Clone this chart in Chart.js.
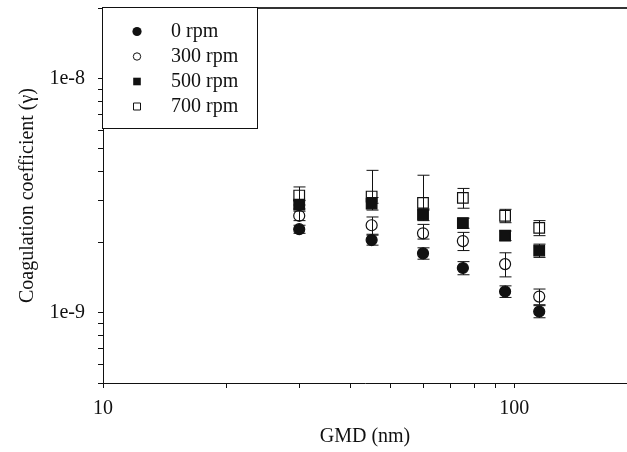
<!DOCTYPE html>
<html>
<head>
<meta charset="utf-8">
<script src="https://cdn.jsdelivr.net/npm/chart.js@4.4.1/dist/chart.umd.min.js"></script>
<style>
    html, body { margin: 0; padding: 0; background: #fff; }
    #wrap { width: 627px; height: 452px; position: relative; }
</style>
</head>
<body>
<div id="wrap"><canvas id="chart"></canvas></div>
<script>
// GMD (nm) of each measured group
const gmd = [30, 45, 60, 75, 95, 115];

// coagulation coefficient per stirring speed, with upper / lower error lengths
const rpm0 = [2.27e-9, 2.04e-9, 1.79e-9, 1.55e-9, 1.23e-9, 1.01e-9];
const rpm0ErrUp = [0.09e-9, 0.10e-9, 0.10e-9, 0.10e-9, 0.07e-9, 0.06e-9];
const rpm0ErrDown = [0.09e-9, 0.10e-9, 0.10e-9, 0.10e-9, 0.07e-9, 0.06e-9];
const rpm300 = [2.59e-9, 2.36e-9, 2.18e-9, 2.02e-9, 1.61e-9, 1.17e-9];
const rpm300ErrUp = [0.12e-9, 0.20e-9, 0.20e-9, 0.18e-9, 0.19e-9, 0.09e-9];
const rpm300ErrDown = [0.12e-9, 0.20e-9, 0.12e-9, 0.18e-9, 0.19e-9, 0.09e-9];
const rpm500 = [2.89e-9, 2.92e-9, 2.62e-9, 2.41e-9, 2.13e-9, 1.84e-9];
const rpm500ErrUp = [0.12e-9, 0.18e-9, 0.15e-9, 0.12e-9, 0.10e-9, 0.12e-9];
const rpm500ErrDown = [0.12e-9, 0.18e-9, 0.15e-9, 0.12e-9, 0.10e-9, 0.12e-9];
const rpm700 = [3.16e-9, 3.13e-9, 2.94e-9, 3.09e-9, 2.59e-9, 2.30e-9];
const rpm700ErrUp = [0.28e-9, 0.92e-9, 0.92e-9, 0.30e-9, 0.17e-9, 0.17e-9];
const rpm700ErrDown = [0.28e-9, 0.20e-9, 0.20e-9, 0.30e-9, 0.17e-9, 0.17e-9];

const seriesLabels = ['0 rpm', '300 rpm', '500 rpm', '700 rpm'];

// tick positions and the few that carry labels
const xTicks = [10, 20, 30, 40, 50, 60, 70, 80, 90, 100];
const xLabelValues = [10, 100];
const xLabelText = ['10', '100'];
const yTicks = [5e-10, 6e-10, 7e-10, 8e-10, 9e-10, 1e-9, 2e-9, 3e-9, 4e-9, 5e-9,
    6e-9, 7e-9, 8e-9, 9e-9, 1e-8, 2e-8];
const yLabelValues = [1e-9, 1e-8];
const yLabelText = ['1e-9', '1e-8'];

const serif = '"Liberation Serif", "Times New Roman", serif';
const ink = '#111';

function pairs(ys) {
    return gmd.map((x, i) => ({ x: x, y: ys[i] }));
}

function labelFor(values, texts) {
    return function(v) {
        const i = values.findIndex(t => Math.abs(t - v) / t < 1e-6);
        return i >= 0 ? texts[i] : '';
    };
}

const seriesValues = [rpm0, rpm300, rpm500, rpm700];
const seriesErrUp = [rpm0ErrUp, rpm300ErrUp, rpm500ErrUp, rpm700ErrUp];
const seriesErrDown = [rpm0ErrDown, rpm300ErrDown, rpm500ErrDown, rpm700ErrDown];
const styles = [
    { pointStyle: 'circle', radius: 5.5, filled: true },
    { pointStyle: 'circle', radius: 5.5, filled: false },
    { pointStyle: 'rect', radius: 7.5, filled: true },
    { pointStyle: 'rect', radius: 7.5, filled: false }
];

// error bars, drawn under the markers
const errorBars = {
    id: 'errorBars',
    beforeDatasetsDraw(chart) {
        const ctx = chart.ctx;
        const xs = chart.scales.x, ys = chart.scales.y;
        ctx.save();
        ctx.strokeStyle = ink;
        ctx.lineWidth = 1;
        seriesValues.forEach((vals, s) => {
            vals.forEach((v, j) => {
                const px = Math.round(xs.getPixelForValue(gmd[j])) + 0.5;
                const hi = ys.getPixelForValue(v + seriesErrUp[s][j]);
                const lo = ys.getPixelForValue(v - seriesErrDown[s][j]);
                ctx.beginPath();
                ctx.moveTo(px, hi); ctx.lineTo(px, lo);
                ctx.moveTo(px - 6, hi); ctx.lineTo(px + 6, hi);
                ctx.moveTo(px - 6, lo); ctx.lineTo(px + 6, lo);
                ctx.stroke();
            });
        });
        ctx.restore();
    }
};

// top frame line and the boxed legend in the upper left corner
const frameAndLegend = {
    id: 'frameAndLegend',
    afterDraw(chart) {
        const ctx = chart.ctx;
        const a = chart.chartArea;
        ctx.save();
        ctx.strokeStyle = '#333';
        ctx.lineWidth = 2;
        ctx.beginPath();
        ctx.moveTo(a.left, a.top);
        ctx.lineTo(a.right, a.top);
        ctx.stroke();

        const bx = a.left - 0.5, by = a.top - 0.5;
        ctx.fillStyle = '#fff';
        ctx.fillRect(bx, by, 155, 121);
        ctx.strokeStyle = ink;
        ctx.lineWidth = 1;
        ctx.strokeRect(bx, by, 155, 121);

        ctx.font = '20px ' + serif;
        ctx.textBaseline = 'alphabetic';
        ctx.textAlign = 'left';
        const mx = a.left + 34;
        seriesLabels.forEach((label, i) => {
            const cy = a.top + 23.5 + 25 * i;
            ctx.beginPath();
            if (i === 0) ctx.arc(mx, cy, 4.6, 0, Math.PI * 2);
            if (i === 1) ctx.arc(mx, cy, 3.7, 0, Math.PI * 2);
            if (i === 2) ctx.rect(mx - 3.8, cy - 3.8, 7.6, 7.6);
            if (i === 3) ctx.rect(mx - 3.5, cy - 3.5, 7, 7);
            ctx.fillStyle = ink;
            if (styles[i].filled) ctx.fill();
            else ctx.stroke();
            ctx.fillText(label, a.left + 68, cy + 5.5);
        });
        ctx.restore();
    }
};

const datasets = seriesValues.map((vals, i) => ({
    label: seriesLabels[i],
    data: pairs(vals),
    pointStyle: styles[i].pointStyle,
    pointRadius: styles[i].radius,
    pointHoverRadius: styles[i].radius,
    pointBackgroundColor: styles[i].filled ? ink : 'rgba(0,0,0,0)',
    pointBorderColor: ink,
    pointBorderWidth: 1.2,
    showLine: false
}));

new Chart(document.getElementById('chart'), {
    type: 'scatter',
    data: { datasets: datasets },
    options: {
        responsive: true,
        maintainAspectRatio: false,
        animation: false,
        events: [],
        layout: { autoPadding: false, padding: { top: 8, right: 0, left: 0, bottom: 0 } },
        plugins: {
            legend: { display: false },
            tooltip: { enabled: false }
        },
        scales: {
            x: {
                type: 'logarithmic',
                min: 10,
                max: 188,
                afterBuildTicks: s => { s.ticks = xTicks.map(v => ({ value: v })); },
                afterFit: s => { s.height = 69; s.paddingLeft = 0; s.paddingRight = 0; },
                ticks: {
                    autoSkip: false,
                    maxRotation: 0,
                    padding: 9,
                    color: ink,
                    font: { family: serif, size: 20 },
                    callback: labelFor(xLabelValues, xLabelText)
                },
                grid: { drawOnChartArea: false, drawTicks: true, tickLength: 5, tickColor: ink },
                border: { display: true, color: ink, width: 1 },
                title: {
                    display: true,
                    text: 'GMD (nm)',
                    color: ink,
                    font: { family: serif, size: 20 },
                    padding: { top: 0, bottom: 3 }
                }
            },
            y: {
                type: 'logarithmic',
                min: 5e-10,
                max: 2e-8,
                afterBuildTicks: s => { s.ticks = yTicks.map(v => ({ value: v })); },
                afterFit: s => { s.width = 103; s.paddingTop = 0; s.paddingBottom = 0; },
                ticks: {
                    autoSkip: false,
                    padding: 13,
                    color: ink,
                    font: { family: serif, size: 20 },
                    callback: labelFor(yLabelValues, yLabelText)
                },
                grid: { drawOnChartArea: false, drawTicks: true, tickLength: 5, tickColor: ink },
                border: { display: true, color: ink, width: 1 },
                title: {
                    display: true,
                    text: 'Coagulation coefficient (γ)',
                    color: ink,
                    font: { family: serif, size: 20 },
                    padding: { top: 16, bottom: 0 }
                }
            }
        }
    },
    plugins: [errorBars, frameAndLegend]
});
</script>
</body>
</html>
